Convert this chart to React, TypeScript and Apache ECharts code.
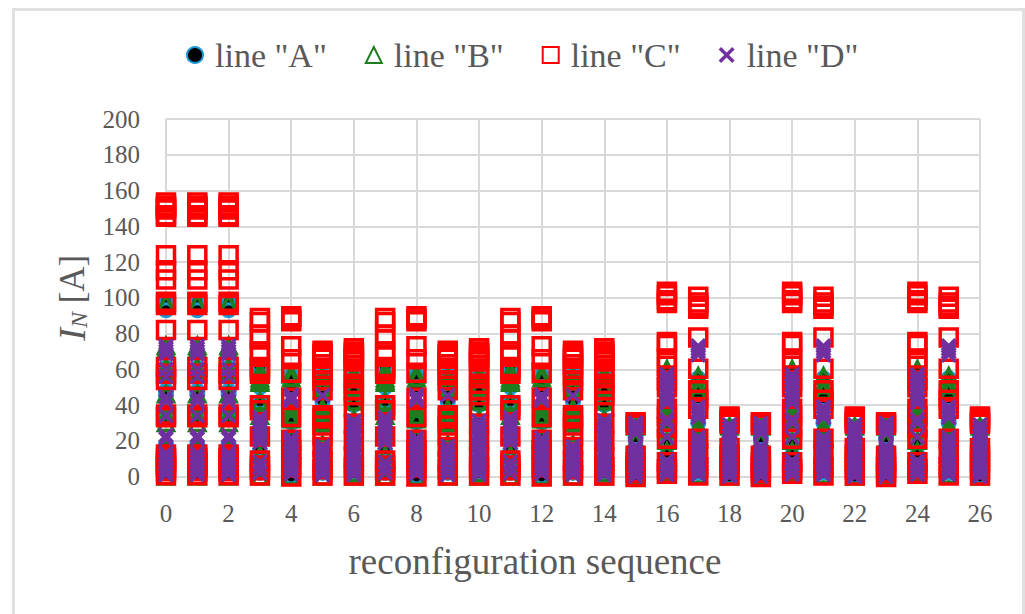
import React, { useEffect, useRef } from "react";
import * as echarts from "echarts";

const sequenceRows = [
  [0, 1, 2],
  [3, 7, 11],
  [4, 8, 12],
  [5, 9, 13],
  [6, 10, 14],
  [15, 19, 23],
  [16, 20, 24],
  [17, 21, 25],
  [18, 22, 26],
];

const lineA = [
  [97.7, 93, 61, 57, 55, 48, 46, 34, 32, 18, 14, 8, 2],
  [61, 55, 50, 42, 34, 26, 14, 8, 2],
  [57, 55, 50, 34, 30, 22, 12, 5, 0],
  [57, 53, 49, 42, 34, 28, 16, 8, 2],
  [56, 52, 47, 40, 30, 20, 10, 2],
  [28, 22, 12, 5, 0],
  [58, 50, 42, 35, 30, 20, 12, 2],
  [55, 48, 44, 30, 22, 12, 2],
  [28, 22, 12, 5, 0],
];

const lineB = [
  [97, 73, 71, 61, 58, 46, 40, 34, 30, 18, 14, 6, 0],
  [59, 54.9, 53.5, 52.5, 42, 34, 24, 12, 5, 0],
  [57, 55, 38, 34, 32, 22, 12, 0],
  [56, 53, 49, 38, 34, 30, 18, 8, 0],
  [57, 55, 50, 42, 32, 22, 12, 2, 0],
  [28, 20, 10, 0],
  [60, 54, 43, 36, 33, 30, 26, 20, 14, 2],
  [56, 51, 48, 28, 24, 12, 1],
  [28, 20, 10, 0],
];

const lineC = [
  [153.3, 151.4, 150.5, 149.9, 149.4, 146.2, 145.3, 123.8, 115.4, 110.2, 97.7, 96, 82, 61.2, 57.5, 54, 34.7, 33.2, 12.3, 10.5, 9, 7, 5.3, 3, 0.7],
  [88.7, 86.5, 79.4, 76.6, 70, 67.8, 61.2, 59.4, 57.5, 39.8, 37, 22.4, 9, 6.2, 3.5, 0.6],
  [89.6, 88.2, 86.8, 72.8, 65.6, 58, 44, 33.3, 20.6, 15, 10.9, 5, 0],
  [70.3, 68.5, 67, 65.9, 62.8, 60.3, 56.6, 53.8, 48.2, 34.2, 32.9, 28.6, 23, 16.5, 9, 4, 0.6],
  [71.8, 70, 68.5, 67, 65.6, 64.4, 60, 55.7, 51.9, 48.2, 45.4, 38.9, 29.5, 20.2, 10.9, 5.2, 0.6],
  [30.4, 29, 11.6, 8, 5.2, 2, -0.3],
  [103.3, 101.4, 98.6, 97.1, 75.3, 73.5, 66, 62, 54, 50, 37.9, 34, 27.6, 21.1, 8, 4, 1.5],
  [100.5, 97.3, 95.5, 93.9, 77.7, 60.3, 48.2, 43, 37.9, 21.1, 12.7, 5.2, 0.6],
  [33.6, 32, 30.5, 29.5, 15.9, 12, 8, 4, 0.6],
];

const lineD = [
  [73, 71.5, 70, 68.5, 60, 56, 44.5, 42, 34, 23, 21, 13, 11, 9, 7, 5, 3, 1],
  [33, 31, 29, 27, 25, 23, 21, 19, 8, 5, 2],
  [45.5, 44, 42.5, 21.5, 19.5, 17.5, 15.5, 13.5, 11.5, 9.5, 7.5, 5.5, 3.5, 1.5],
  [45.4, 17, 15, 13, 11, 9, 7, 5, 3, 1],
  [31, 29, 27, 25, 23, 21, 19, 17, 15, 13, 11, 9, 7, 5, 3, 1],
  [30, 28.5, 27, 25, 24, 17, 16, 14, 12, 10, 8, 6, 4, 2, 0],
  [57, 55, 53, 51, 49, 47, 45, 43, 41, 32, 30, 22, 9, 7, 5, 3, 1],
  [73, 71.5, 70, 68, 39, 37, 35, 33, 22, 20, 18, 16, 14, 12, 10, 8, 6, 4, 2, 1],
  [29, 27, 25, 23, 21, 19, 17, 15, 13, 11, 9, 7, 5, 3, 1, 0],
];

const xTicks = { min: 0, max: 26, interval: 2 };
const yTicks = { min: 0, max: 200, interval: 20 };
const names = ['line "A"', 'line "B"', 'line "C"', 'line "D"'];

const crossPath = "path://M1.5 0 L5 3.5 L8.5 0 L10 1.5 L6.5 5 L10 8.5 L8.5 10 L5 6.5 L1.5 10 L0 8.5 L3.5 5 L0 1.5 Z";

function toPoints(rows: number[][]) {
  const out: number[][] = [];
  rows.forEach((vals, i) => {
    sequenceRows[i].forEach((s) => vals.forEach((v) => out.push([s, v])));
  });
  return out;
}

export default function App() {
  const ref = useRef<HTMLDivElement>(null);
  useEffect(() => {
    document.body.style.margin = "0";
    const chart = echarts.init(ref.current!, null, { renderer: "svg" });
    const font = "'Liberation Serif', serif";
    chart.setOption({
      animation: false,
      backgroundColor: "#ffffff",
      grid: { left: 166, right: 45, top: 119, bottom: 137.5, containLabel: false },
      legend: {
        top: 33,
        left: 181,
        itemWidth: 16,
        itemHeight: 16,
        itemGap: 38,
        textStyle: { fontFamily: font, fontSize: 34, color: "#595959", padding: [0, 0, 0, 7] },
        data: names,
      },
      graphic: [
        {
          type: "rect",
          silent: true,
          shape: { x: 13.5, y: 9.5, width: 1010, height: 620 },
          style: { fill: "none", stroke: "#e0e0e0", lineWidth: 3 },
        },
      ],
      xAxis: {
        type: "value",
        ...xTicks,
        name: "reconfiguration sequence",
        nameLocation: "middle",
        nameGap: 66,
        nameTextStyle: { fontFamily: font, fontSize: 37, color: "#595959", padding: [0, 76, 0, 0] },
        axisLine: { show: false },
        axisTick: { show: false },
        axisLabel: { fontFamily: font, fontSize: 25, color: "#595959", margin: 24 },
        splitLine: { show: true, lineStyle: { color: "#d9d9d9", width: 2 } },
      },
      yAxis: {
        type: "value",
        ...yTicks,
        name: "{i|I}{n|N}{u| [A]}",
        nameLocation: "middle",
        nameGap: 75,
        nameTextStyle: {
          rich: {
            i: { fontFamily: font, fontStyle: "italic", fontSize: 38, color: "#595959" },
            n: { fontFamily: font, fontStyle: "italic", fontSize: 24, color: "#595959", verticalAlign: "bottom", padding: [12, 0, 0, 0] },
            u: { fontFamily: font, fontSize: 35, color: "#595959" },
          },
        },
        axisLine: { show: false },
        axisTick: { show: false },
        axisLabel: { fontFamily: font, fontSize: 25, color: "#595959", margin: 26 },
        splitLine: { show: true, lineStyle: { color: "#d9d9d9", width: 2 } },
      },
      series: [
        {
          name: names[0],
          type: "scatter",
          clip: false,
          symbol: "circle",
          symbolSize: 13,
          itemStyle: { color: "#000000", borderColor: "#1b9ad6", borderWidth: 3, opacity: 1 },
          data: toPoints(lineA),
        },
        {
          name: names[1],
          type: "scatter",
          clip: false,
          symbol: "triangle",
          symbolSize: 15,
          itemStyle: { color: "rgba(255,255,255,0)", borderColor: "#1e7d1e", borderWidth: 3.5, opacity: 1 },
          data: toPoints(lineB),
        },
        {
          name: names[2],
          type: "scatter",
          clip: false,
          symbol: "rect",
          symbolSize: 17,
          itemStyle: { color: "rgba(255,255,255,0)", borderColor: "#ff0000", borderWidth: 3.5, opacity: 1 },
          data: toPoints(lineC),
        },
        {
          name: names[3],
          type: "scatter",
          clip: false,
          symbol: crossPath,
          symbolSize: 16,
          itemStyle: { color: "#7030a0", opacity: 1 },
          data: toPoints(lineD),
        },
      ],
    });
    return () => chart.dispose();
  }, []);
  return <div ref={ref} style={{ width: 1025, height: 614 }} />;
}
